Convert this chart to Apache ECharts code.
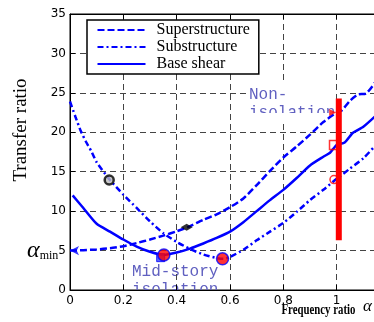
<!DOCTYPE html>
<html>
<head>
<meta charset="utf-8">
<script src="https://cdn.jsdelivr.net/npm/echarts@6/dist/echarts.min.js"></script>
<style>
html, body { margin: 0; padding: 0; background: #fff; }
#main { width: 374px; height: 322px; }
</style>
</head>
<body>
<div id="main"></div>
<script>
// curves (frequency ratio -> transfer ratio)
const supX = [0, 0.05, 0.1, 0.15, 0.2, 0.25, 0.3, 0.35, 0.4, 0.44, 0.5, 0.55, 0.6, 0.65, 0.7, 0.75, 0.8, 0.85, 0.9, 0.95, 1.0, 1.02, 1.05, 1.08, 1.11, 1.15];
const supY = [5.0, 5.05, 5.15, 5.3, 5.55, 5.95, 6.4, 6.9, 7.45, 7.95, 8.9, 9.6, 10.5, 11.6, 13.3, 15.1, 16.8, 18.2, 19.7, 21.3, 22.5, 22.8, 24.0, 24.8, 24.9, 26.6];

const subX = [0, 0.02, 0.04, 0.06, 0.08, 0.1, 0.15, 0.2, 0.25, 0.3, 0.35, 0.4, 0.45, 0.5, 0.55, 0.575, 0.6, 0.65, 0.7, 0.75, 0.8, 0.85, 0.9, 0.95, 1.0, 1.05, 1.1, 1.15];
const subY = [23.9, 22.0, 20.2, 18.8, 17.6, 16.2, 13.95, 12.1, 10.4, 8.7, 7.2, 6.1, 5.2, 4.5, 4.05, 3.95, 4.2, 5.1, 6.3, 7.4, 8.5, 9.9, 11.4, 12.7, 14.1, 15.4, 16.7, 18.5];

const baseX = [0.01, 0.05, 0.1, 0.15, 0.2, 0.25, 0.3, 0.35, 0.4, 0.45, 0.5, 0.55, 0.6, 0.65, 0.7, 0.75, 0.8, 0.85, 0.9, 0.95, 0.975, 1.0, 1.03, 1.06, 1.1, 1.15];
const baseY = [12.0, 10.4, 8.4, 7.4, 6.4, 5.5, 4.85, 4.45, 4.75, 5.25, 5.9, 6.6, 7.4, 8.6, 10.0, 11.4, 12.7, 14.2, 15.8, 16.9, 17.4, 18.4, 18.7, 19.9, 20.7, 22.2];

// marked points
const arrowPt = [[0, 5.0]];
const ringPt = [[0.147, 13.95]];
const diamondPt = [[0.4375, 7.95]];
const bluePt = [[0.34, 4.1]];
const minPts = [[0.352, 4.45], [0.572, 3.95]];
const openCirclePt = [[0.99, 14.0]];
const openSquarePt = [[0.99, 18.4]];
const trianglePt = [[0.985, 22.5]];
const barX = [1.008, 1.008];
const barY = [24.3, 6.3];

const names = ['Superstructure', 'Substructure', 'Base shear'];

const zip = (xs, ys) => xs.map((x, i) => [x, ys[i]]);
const blue = '#0000ff';
const red = '#ff0000';

const chart = echarts.init(document.getElementById('main'));

const axisCommon = {
    z: 5,
    axisLine: { lineStyle: { color: '#000', width: 1 } },
    axisTick: { inside: true, length: 5, lineStyle: { color: '#000' } },
    splitLine: { show: true, showMinLine: false, showMaxLine: false, lineStyle: { color: '#444', type: [6, 4], width: 1 } }
};

chart.setOption({
    animation: false,
    grid: { left: 70, top: 14, width: 320, height: 276, show: true, borderColor: '#000', borderWidth: 1, outerBoundsMode: 'none', containLabel: false },
    legend: {
        data: names,
        orient: 'vertical', left: 87, top: 20, z: 20,
        padding: [2, 9, 2, 9.5],
        itemGap: 1, itemWidth: 48, itemHeight: 14,
        borderColor: '#000', borderWidth: 1.5, backgroundColor: '#fff',
        itemStyle: { opacity: 0 },
        textStyle: { fontFamily: '"Liberation Serif"', fontSize: 16, color: '#000', lineHeight: 14, padding: [0, 0, 0, 6] }
    },
    xAxis: [
        Object.assign({}, axisCommon, {
            type: 'value', min: 0, max: 1.2, interval: 0.2,
            axisLabel: { margin: 5, fontFamily: 'DejaVu Sans', fontSize: 12, color: '#000' }
        }),
        {
            type: 'value', position: 'top', min: 0, max: 1.2, interval: 0.2, z: 5,
            axisLine: { lineStyle: { color: '#000', width: 1 } },
            axisTick: { inside: true, length: 5, lineStyle: { color: '#000' } },
            axisLabel: { show: false }, splitLine: { show: false }
        }
    ],
    yAxis: Object.assign({}, axisCommon, {
        type: 'value', min: 0, max: 35, interval: 5,
        axisLabel: {
            margin: 4, fontFamily: 'DejaVu Sans', fontSize: 12, color: '#000',
            formatter: v => v === 5 ? '{a|α}{m|min}{n|5}' : String(v),
            rich: {
                a: { fontFamily: '"Liberation Serif"', fontStyle: 'italic', fontSize: 24, color: '#000' },
                m: { fontFamily: '"Liberation Serif"', fontSize: 12, color: '#000', padding: [10, 0, 0, 0] },
                n: { fontFamily: 'DejaVu Sans', fontSize: 12, color: '#000' }
            }
        }
    }),
    graphic: [
        { type: 'text', x: 21, y: 130, rotation: Math.PI / 2,
          style: { text: 'Transfer ratio', font: '19px "Liberation Serif"', fill: '#000', align: 'center', verticalAlign: 'middle' } },
        { type: 'text', x: 281.5, y: 310, scaleX: 0.72,
          style: { text: 'Frequency ratio', font: 'bold 15px "Liberation Serif"', fill: '#000', align: 'left', verticalAlign: 'middle' } },
        { type: 'text', x: 363, y: 307,
          style: { text: 'α', font: 'italic 17px "Liberation Serif"', fill: '#000', align: 'left', verticalAlign: 'middle' } },
        // mid-story note, lower line cut at the axis
        { type: 'text', x: 132, y: 263, z: 1,
          style: { text: 'Mid-story\nisolation', font: '16px "Liberation Mono"', lineHeight: 18, fill: '#6060c0', align: 'left', verticalAlign: 'top' } },
        { type: 'rect', z: 1.2, shape: { x: 125, y: 290.6, width: 115, height: 5 }, style: { fill: '#fff' } },
        // non-isolation note on a white patch
        { type: 'rect', z: 6, shape: { x: 246, y: 82, width: 90, height: 39 }, style: { fill: '#fff' } },
        { type: 'text', x: 249, y: 86, z: 6.1,
          style: { text: 'Non-\nisolation', font: '16px "Liberation Mono"', lineHeight: 18, fill: '#6060c0', align: 'left', verticalAlign: 'top' } },
        { type: 'rect', z: 6.2, shape: { x: 246, y: 113, width: 90, height: 8 }, style: { fill: '#fff' } }
    ],
    series: [
        { name: names[0], type: 'line', data: zip(supX, supY), symbol: 'none', smooth: 0.2, z: 10, color: blue,
          lineStyle: { color: blue, width: 2.5, type: [7, 3] } },
        { name: names[1], type: 'line', data: zip(subX, subY), symbol: 'none', smooth: 0.2, z: 10, color: blue,
          lineStyle: { color: blue, width: 2.5, type: [6, 3, 2, 3] } },
        { name: names[2], type: 'line', data: zip(baseX, baseY), symbol: 'none', smooth: 0.2, z: 10, color: blue,
          lineStyle: { color: blue, width: 2.5 } },
        { name: 'bar', type: 'line', data: zip(barX, barY), symbol: 'none', z: 11,
          lineStyle: { color: red, width: 6, cap: 'butt' } },
        { type: 'scatter', data: arrowPt, symbol: 'arrow', symbolSize: [7, 9], symbolRotate: 90, z: 12,
          itemStyle: { color: blue } },
        { type: 'scatter', data: ringPt, symbol: 'circle', symbolSize: 9, z: 12,
          itemStyle: { color: '#bbb', borderColor: '#000', borderWidth: 2.5 } },
        { type: 'scatter', data: diamondPt, symbol: 'diamond', symbolSize: [12, 7], z: 12,
          itemStyle: { color: '#000' } },
        { type: 'scatter', data: bluePt, symbol: 'rect', symbolSize: 8, z: 12,
          itemStyle: { color: '#3040ff', borderColor: blue, borderWidth: 1 } },
        { type: 'scatter', data: minPts, symbol: 'circle', symbolSize: 12, z: 13,
          itemStyle: { color: red, borderColor: blue, borderWidth: 1.5 } },
        { type: 'scatter', data: openCirclePt, symbol: 'circle', symbolSize: 8, z: 12,
          itemStyle: { color: 'rgba(255,255,255,0)', borderColor: red, borderWidth: 1.5 } },
        { type: 'scatter', data: openSquarePt, symbol: 'rect', symbolSize: 9, z: 12,
          itemStyle: { color: 'rgba(255,255,255,0)', borderColor: red, borderWidth: 1.5 } },
        { type: 'scatter', data: trianglePt, symbol: 'triangle', symbolSize: 7, symbolRotate: -90, z: 12,
          itemStyle: { color: red } }
    ]
});
</script>
</body>
</html>
